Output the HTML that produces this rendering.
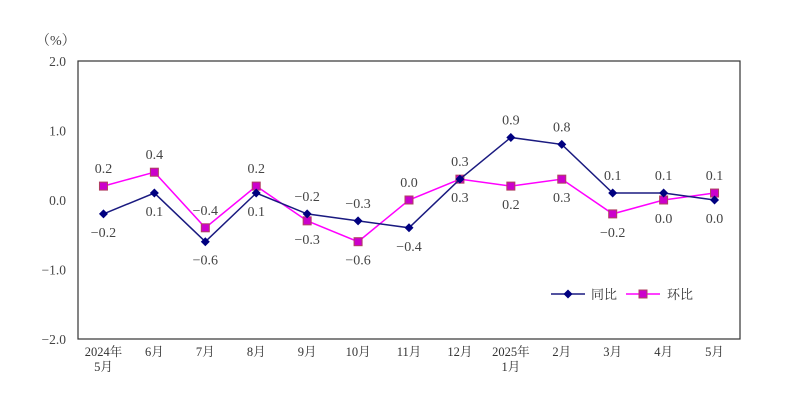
<!DOCTYPE html>
<html><head><meta charset="utf-8"><style>
body{margin:0;background:#fff}
svg{display:block;font-family:"Liberation Serif","Noto Serif CJK SC",serif;}
</style></head><body>
<svg id="c" width="793" height="415">
<rect x="78" y="61" width="662" height="278" fill="none" stroke="#333" stroke-width="1.2"/>
<text x="36" y="45" font-size="14" fill="#444">（%）</text>
<g id="yt"></g><g id="xt"></g><g id="ser"></g>
<g>
<g><line x1="551" y1="294" x2="585" y2="294" stroke="#1a1a80" stroke-width="1.5"/><path d="M568 289.5 L572.5 294 L568 298.5 L563.5 294Z" fill="#000080"/><text x="591" y="299" font-size="13" fill="#333">同比</text></g>
<g><line x1="626" y1="294" x2="660" y2="294" stroke="#ff00ff" stroke-width="1.5"/><rect x="639" y="290" width="8" height="8" fill="#cc00cc" stroke="#b04060"/><text x="667" y="299" font-size="13" fill="#333">环比</text></g>
</g>
</svg>
<script>
const categories=[["2024年","5月"],["6月"],["7月"],["8月"],["9月"],["10月"],["11月"],["12月"],["2025年","1月"],["2月"],["3月"],["4月"],["5月"]];
const yoy=[-0.2,0.1,-0.6,0.1,-0.2,-0.3,-0.4,0.3,0.9,0.8,0.1,0.1,0.0];
const mom=[0.2,0.4,-0.4,0.2,-0.3,-0.6,0.0,0.3,0.2,0.3,-0.2,0.0,0.1];
const yTicks=[2,1,0,-1,-2];
const yoyAbove=[0,0,0,0,1,1,0,0,1,1,1,1,0];
const NS="http://www.w3.org/2000/svg";
const L=78,R=740,T=61,B=339,ymin=-2,ymax=2;
const bw=(R-L)/categories.length;
const X=i=>L+bw*(i+0.5);
const Y=v=>B-(v-ymin)/(ymax-ymin)*(B-T);
function mk(tag,at,parent){const e=document.createElementNS(NS,tag);for(const k in at)e.setAttribute(k,at[k]);parent.appendChild(e);return e;}
const fmt=v=>(v<0?"−":"")+Math.abs(v).toFixed(1);
const yt=document.getElementById('yt');
yTicks.forEach(v=>{const t=mk('text',{x:66,y:Y(v)+5,'text-anchor':'end','font-size':13.5,fill:'#444'},yt);t.textContent=fmt(v);

});
const xt=document.getElementById('xt');
categories.forEach((c,i)=>{c.forEach((s,j)=>{const t=mk('text',{x:X(i),y:356+j*15,'text-anchor':'middle','font-size':12.5,fill:'#333'},xt);t.textContent=s;

});});
const g=document.getElementById('ser');
function series(vals,color,name,marker,above){
const p=mk('polyline',{points:vals.map((v,i)=>X(i)+','+Y(v)).join(' '),fill:'none',stroke:color,'stroke-width':1.5},g);


vals.forEach((v,i)=>{let m;const x=X(i),y=Y(v);
if(marker==='d'){m=mk('path',{d:`M${x} ${y-4.5}L${x+4.5} ${y}L${x} ${y+4.5}L${x-4.5} ${y}Z`,fill:'#000080'},g);}
else{m=mk('rect',{x:x-4,y:y-4,width:8,height:8,fill:'#cc00cc',stroke:'#b04060'},g);}


const up=above(i);
const t=mk('text',{x:x,y:up?y-13:y+23,'text-anchor':'middle','font-size':14,fill:'#444'},g);t.textContent=fmt(v);

});}
series(mom,'#ff00ff','mom','s',i=>!yoyAbove[i]);
series(yoy,'#1a1a80','yoy','d',i=>!!yoyAbove[i]);
</script>
</body></html>
